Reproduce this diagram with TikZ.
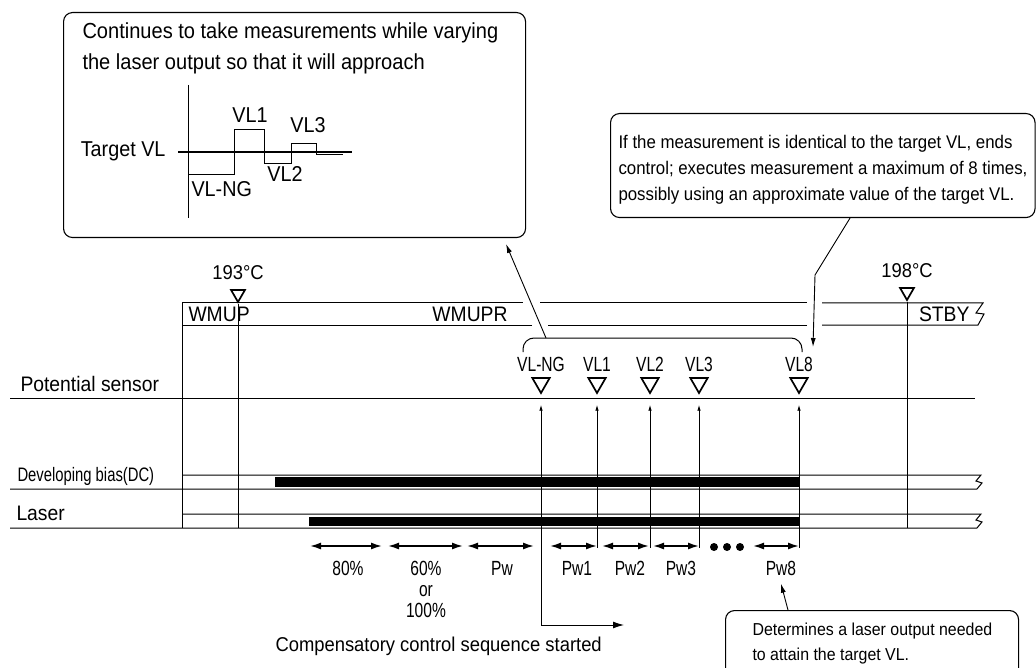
\documentclass[tikz,border=0pt]{standalone}
\usepackage{fontspec}
\setmainfont{Liberation Sans}[FakeStretch=0.92]
\newfontfamily\narrowfont{Liberation Sans}[FakeStretch=0.76]
\usetikzlibrary{shapes.geometric, arrows.meta, positioning, calc}

\begin{document}
\begin{tikzpicture}[
    x=1pt, y=-1pt,
    line width=1pt,
    lbl/.style={inner sep=0pt, font=\fontsize{21}{25}\selectfont},
    nlbl/.style={inner sep=0pt, font=\narrowfont\fontsize{20.5}{21.5}\selectfont},
    callout/.style={draw, rounded corners=9pt, line width=1.1pt},
    tri/.style={draw, regular polygon, regular polygon sides=3, shape border rotate=180,
                line width=1.7pt, inner sep=0pt, minimum size=20pt},
    ptr/.style={-{Latex[length=9pt, width=5pt]}, line width=0.9pt},
    upptr/.style={-{Latex[length=6pt, width=3.5pt]}, line width=0.9pt},
    pwarrow/.style={{Latex[length=11pt, width=7pt]}-{Latex[length=11pt, width=7pt]}, line width=1.6pt}
]
    \useasboundingbox (0,0) rectangle (1036,668);
    \clip (0,0) rectangle (1036,668);

    \node[callout, anchor=north west, minimum width=462pt, minimum height=225pt] (boxA) at (63,12) {};
    \node[lbl, anchor=north west, align=left, font=\fontsize{21.8}{31.5}\selectfont] (txtA) at (82,22)
        {Continues to take measurements while varying\\the laser output so that it will approach};
    \node[lbl, anchor=base east, font=\fontsize{21.5}{25}\selectfont] (tgt) at (166,157) {Target VL};
    \draw (188,85) -- (188,218);
    \draw[line width=2.4pt] ([xshift=12pt]tgt.east) -- ++(174,0);
    \draw[line width=0.9pt] (188,174) -- (234,174) -- (234,129) -- (264,129) -- (264,163)
        -- (291,163) -- (291,143) -- (316,143) -- (316,154) -- (343,154);
    \node[lbl, anchor=base, font=\fontsize{21.5}{25}\selectfont] (gVL1) at (250,123) {VL1};
    \node[lbl, anchor=base, font=\fontsize{21.5}{25}\selectfont] (gVL2) at (285,182) {VL2};
    \node[lbl, anchor=base, font=\fontsize{21.5}{25}\selectfont] (gVL3) at (308,133) {VL3};
    \node[lbl, anchor=base west, font=\fontsize{21.5}{25}\selectfont] (gVLNG) at (191,197) {VL-NG};

    \node[callout, anchor=north west, minimum width=424.5pt, minimum height=104pt] (boxB) at (610,113) {};
    \node[lbl, anchor=north west, align=left, font=\fontsize{18.3}{26}\selectfont] (txtB) at (618,135)
        {If the measurement is identical to the target VL, ends\\control; executes measurement a maximum of 8 times,\\possibly using an approximate value of the target VL.};

    \node[callout, anchor=north west, minimum width=293pt, minimum height=70pt] (boxC) at (725,610) {};
    \node[lbl, anchor=north west, align=left, font=\fontsize{17.3}{25}\selectfont] (txtC) at (752,622.4)
        {Determines a laser output needed\\to attain the target VL.};

    \node[tri, minimum size=16pt] (t193) at (238,294) {};
    \node[lbl, font=\fontsize{20}{24}\selectfont, above=9pt of t193] (c193) {193\textdegree C};
    \node[tri, minimum size=16pt] (t198) at (907,292) {};
    \node[lbl, font=\fontsize{20}{24}\selectfont, above=9pt of t198] (c198) {198\textdegree C};

    \draw (182,528) -- (182,303) -- (523,303);
    \draw (540,303) -- (807,303);
    \draw (822,303) -- (983,303) -- (976,313) -- (984,314) -- (978,325) -- (822,325);
    \draw (807,325) -- (548,325);
    \draw (532,325) -- (182,325);
    \node[lbl, anchor=base west] (wmup) at (188,322) {WMUP};
    \node[lbl, anchor=base] (wmupr) at (470,322) {WMUPR};
    \node[lbl, anchor=base east] (stby) at (970,322) {STBY};

    \draw (t193.south) -- (238,528);
    \draw (t198.south) -- (907,528);

    \node[lbl, anchor=base west] (sensor) at (20,391) {Potential sensor};
    \node[nlbl, anchor=base west, font=\narrowfont\fontsize{19.5}{21}\selectfont] (bias) at (17,481) {Developing bias(DC)};
    \node[lbl, anchor=base west] (laser) at (16,520) {Laser};
    \draw (10,398) -- (975,398);
    \draw (182,475) -- (981,475) -- (976,481) -- (982,483) -- (977,489) -- (10,489);
    \draw (182,514) -- (981,514) -- (976,520) -- (982,522) -- (977,528) -- (10,528);
    \fill (275,477) rectangle (799,487);
    \fill (309,517) rectangle (799,526);

    \foreach \x/\n/\t in {541/NG/VL-NG, 597/1/VL1, 650/2/VL2, 699/3/VL3, 799/8/VL8} {
        \node[tri] (t\n) at (\x,383) {};
        \node[nlbl, above=5pt of t\n] (l\n) {\t};
    }
    \foreach \n in {1,2,3,8}
        \draw[upptr] ([yshift=-153pt]t\n.south) -- ([yshift=-10pt]t\n.south);

    \draw[rounded corners=11pt] (523,352) -- (523,338) -- (802,338) -- (802,352);
    \coordinate (braceTop) at (546,338);
    \coordinate (pA) at (506,244);
    \draw[ptr] (braceTop) -- (pA);
    \coordinate (bend) at (815,275);
    \coordinate (pB) at (813,347);
    \draw[ptr] ($(boxB.south west)+(240,0)$) -- (bend) -- (pB);

    \foreach \a/\b in {310/382, 388/463, 467/534, 550/597, 602/649, 653/699, 753/799}
        \draw[pwarrow] (\a,546) -- (\b,546);
    \foreach \x in {714,727,740}
        \fill (\x,547) circle (4pt);
    \node[nlbl, anchor=base] (l80) at (348,575) {80\%};
    \node[nlbl, anchor=north, align=center, font=\narrowfont\fontsize{20.5}{21}\selectfont] (l60) at (426,560.5) {60\%\\or\\100\%};
    \node[nlbl, anchor=base] (lPw) at (502,575) {Pw};
    \node[nlbl, anchor=base] (lPw1) at (577,575) {Pw1};
    \node[nlbl, anchor=base] (lPw2) at (630,575) {Pw2};
    \node[nlbl, anchor=base] (lPw3) at (681,575) {Pw3};
    \node[nlbl, anchor=base] (lPw8) at (781,575) {Pw8};

    \coordinate (cs) at (624,625);
    \draw[{Latex[length=11pt, width=7pt]}-{Latex[length=6pt, width=3.5pt]}, line width=0.9pt]
        (cs) -| ([yshift=-10pt]tNG.south);
    \node[lbl, anchor=base west, font=\fontsize{20}{24}\selectfont] (comp) at (275,651) {Compensatory control sequence started};

    \draw[ptr] ($(boxC.north west)+(63,0)$) -- ([yshift=-8pt]lPw8.south);
\end{tikzpicture}
\end{document}
